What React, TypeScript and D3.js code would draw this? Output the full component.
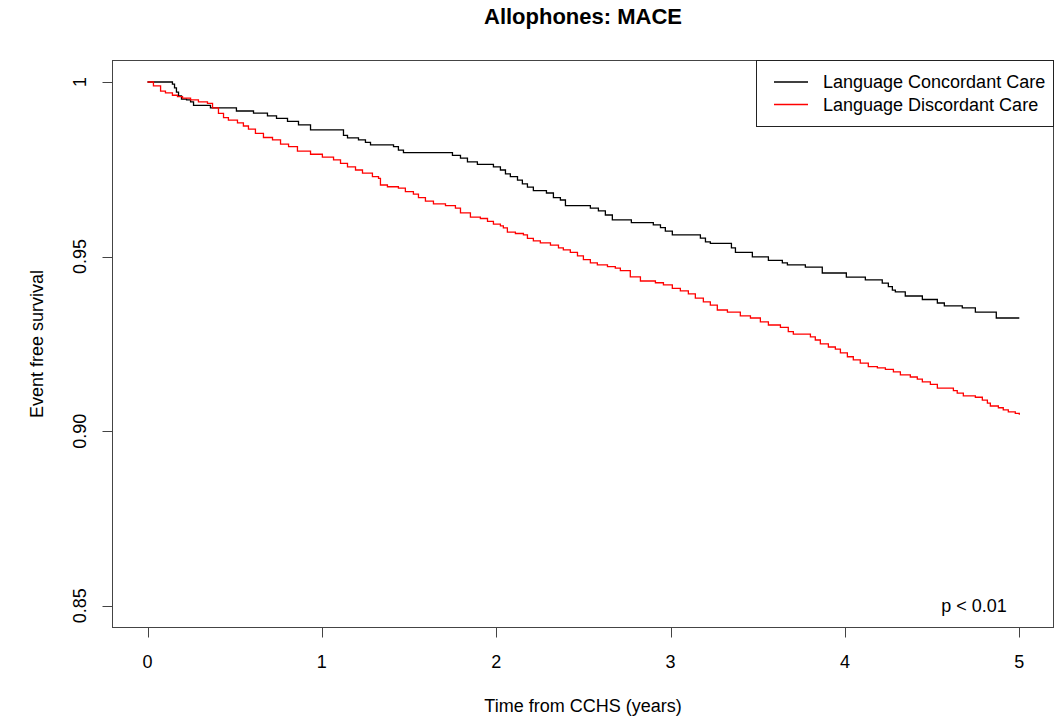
import React, { useRef, useEffect } from 'react';
import * as d3 from 'd3';

const title = 'Allophones: MACE';
const xLabel = 'Time from CCHS (years)';
const yLabel = 'Event free survival';
const xTicks = [0, 1, 2, 3, 4, 5];
const yTicks = [0.85, 0.9, 0.95, 1];
const yTickLabels = ['0.85', '0.90', '0.95', '1'];
const seriesNames = ['Language Concordant Care', 'Language Discordant Care'];
const seriesColors = ['#000000', '#ff0000'];
const pValueText = 'p < 0.01';

// Concordant care: event times (years) and survival after each event
const concordantTime = [
	0, 0.143, 0.155, 0.166, 0.178, 0.195, 0.224, 0.247, 0.264, 0.361, 0.51, 0.608, 0.688, 0.74,
	0.803, 0.866, 0.935, 1.124, 1.147, 1.21, 1.25, 1.279, 1.411, 1.439, 1.468, 1.749, 1.795,
	1.835, 1.892, 1.984, 2.024, 2.053, 2.081, 2.122, 2.15, 2.179, 2.213, 2.288, 2.328, 2.368,
	2.397, 2.54, 2.586, 2.626, 2.666, 2.775, 2.901, 2.942, 2.97, 3.01, 3.171, 3.2, 3.228, 3.349,
	3.372, 3.469, 3.561, 3.641, 3.67, 3.773, 3.87, 4.008, 4.117, 4.214, 4.249, 4.272, 4.289,
	4.346, 4.444, 4.53, 4.57, 4.673, 4.748, 4.868, 5.0,
];
const concordantSurv = [
	1, 0.9994, 0.9983, 0.9971, 0.996, 0.9951, 0.9949, 0.9943, 0.9933, 0.9926, 0.9917, 0.9911,
	0.9903, 0.9896, 0.9887, 0.9877, 0.9863, 0.9847, 0.984, 0.9834, 0.9827, 0.982, 0.9815, 0.9805,
	0.9798, 0.979, 0.9782, 0.9771, 0.9764, 0.9757, 0.9748, 0.9737, 0.9729, 0.9719, 0.9708,
	0.9699, 0.9689, 0.9682, 0.9669, 0.9662, 0.9646, 0.9639, 0.9631, 0.9619, 0.9605, 0.9597,
	0.9591, 0.9583, 0.9573, 0.9562, 0.9553, 0.9542, 0.9538, 0.9525, 0.9512, 0.9499, 0.9489,
	0.9482, 0.9476, 0.947, 0.9453, 0.9441, 0.9433, 0.9424, 0.9414, 0.9404, 0.9399, 0.9387,
	0.9377, 0.9367, 0.9359, 0.9353, 0.9341, 0.9324, 0.9324,
];

// Discordant care
const discordantTime = [
	0, 0.034, 0.075, 0.103, 0.143, 0.172, 0.201, 0.247, 0.292, 0.344, 0.373, 0.407, 0.436, 0.464,
	0.516, 0.55, 0.579, 0.619, 0.665, 0.717, 0.763, 0.809, 0.86, 0.935, 1.003, 1.067, 1.107,
	1.147, 1.193, 1.233, 1.29, 1.325, 1.336, 1.376, 1.439, 1.479, 1.525, 1.554, 1.594, 1.64,
	1.709, 1.766, 1.795, 1.852, 1.909, 1.95, 1.984, 2.024, 2.041, 2.064, 2.11, 2.156, 2.179,
	2.213, 2.253, 2.311, 2.357, 2.385, 2.425, 2.466, 2.5, 2.54, 2.58, 2.638, 2.683, 2.712, 2.769,
	2.827, 2.913, 2.959, 3.01, 3.056, 3.102, 3.142, 3.188, 3.228, 3.268, 3.326, 3.4, 3.458,
	3.515, 3.561, 3.63, 3.675, 3.704, 3.802, 3.83, 3.859, 3.905, 3.945, 3.974, 4.014, 4.048,
	4.088, 4.134, 4.186, 4.232, 4.278, 4.318, 4.375, 4.415, 4.444, 4.49, 4.53, 4.622, 4.644,
	4.679, 4.748, 4.788, 4.817, 4.834, 4.88, 4.908, 4.937, 4.977, 5.0,
];
const discordantSurv = [
	1, 0.9989, 0.9974, 0.9969, 0.9962, 0.9958, 0.9954, 0.9949, 0.9943, 0.9939, 0.9926, 0.991,
	0.9898, 0.9891, 0.9883, 0.9874, 0.9865, 0.9853, 0.9841, 0.9834, 0.9822, 0.9815, 0.9802,
	0.9793, 0.9785, 0.9777, 0.9767, 0.9757, 0.9748, 0.9739, 0.9729, 0.9724, 0.9705, 0.97,
	0.9696, 0.9686, 0.9679, 0.9669, 0.9659, 0.9651, 0.9646, 0.9639, 0.9625, 0.9613, 0.9609,
	0.9601, 0.9593, 0.9588, 0.9582, 0.957, 0.9566, 0.9562, 0.9552, 0.9545, 0.9539, 0.9533,
	0.9525, 0.9519, 0.9512, 0.9502, 0.9491, 0.9482, 0.9476, 0.9471, 0.9467, 0.946, 0.9442,
	0.943, 0.9425, 0.9419, 0.9409, 0.9402, 0.9393, 0.9381, 0.937, 0.9361, 0.9347, 0.9341,
	0.933, 0.9324, 0.9313, 0.9304, 0.9297, 0.9285, 0.9278, 0.927, 0.9261, 0.925, 0.9241,
	0.9235, 0.9224, 0.9213, 0.9204, 0.9195, 0.9185, 0.9181, 0.9177, 0.917, 0.9161, 0.9155,
	0.9149, 0.9141, 0.9134, 0.9123, 0.9116, 0.9109, 0.9101, 0.9097, 0.9089, 0.908, 0.9072,
	0.9067, 0.9061, 0.9055, 0.9051, 0.9047,
];

const font = "'Liberation Sans', Arial, sans-serif";

function App() {
	const width = 1054;
	const height = 717;
	const svgRef = useRef<SVGSVGElement>(null);

	useEffect(() => {
		const svg = d3.select(svgRef.current);
		svg.selectAll('*').remove();

		const x = d3.scaleLinear().domain([0, 5]).range([147.5, 1019.3]);
		const y = d3.scaleLinear().domain([0.85, 1]).range([605.7, 82]);
		const left = 112.5;
		const right = 1053.5;
		const top = 60.5;
		const bottom = 627.5;
		const axisColor = '#444';
		const fs = 18;

		// plot box
		svg
			.append('rect')
			.attr('x', left)
			.attr('y', top)
			.attr('width', right - left)
			.attr('height', bottom - top)
			.attr('fill', 'none')
			.attr('stroke', axisColor)
			.attr('stroke-width', 1);

		// x axis
		const gx = svg.append('g');
		gx.selectAll('line')
			.data(xTicks)
			.join('line')
			.attr('x1', (d) => Math.round(x(d)) + 0.5)
			.attr('x2', (d) => Math.round(x(d)) + 0.5)
			.attr('y1', bottom)
			.attr('y2', bottom + 10)
			.attr('stroke', axisColor);
		gx.selectAll('text')
			.data(xTicks)
			.join('text')
			.attr('x', (d) => x(d))
			.attr('y', 668)
			.attr('text-anchor', 'middle')
			.attr('font-family', font)
			.attr('font-size', fs)
			.text((d) => String(d));

		// y axis
		const gy = svg.append('g');
		gy.selectAll('line')
			.data(yTicks)
			.join('line')
			.attr('x1', left - 10)
			.attr('x2', left)
			.attr('y1', (d) => Math.round(y(d)) + 0.5)
			.attr('y2', (d) => Math.round(y(d)) + 0.5)
			.attr('stroke', axisColor);
		gy.selectAll('text')
			.data(yTicks)
			.join('text')
			.attr('transform', (d) => `translate(86,${y(d)}) rotate(-90)`)
			.attr('text-anchor', 'middle')
			.attr('font-family', font)
			.attr('font-size', fs)
			.text((d, i) => yTickLabels[i]);

		// titles
		svg
			.append('text')
			.attr('x', 583)
			.attr('y', 24)
			.attr('text-anchor', 'middle')
			.attr('font-family', font)
			.attr('font-weight', 'bold')
			.attr('font-size', 22)
			.text(title);
		svg
			.append('text')
			.attr('x', 583)
			.attr('y', 712)
			.attr('text-anchor', 'middle')
			.attr('font-family', font)
			.attr('font-size', fs)
			.text(xLabel);
		svg
			.append('text')
			.attr('transform', `translate(43,344) rotate(-90)`)
			.attr('text-anchor', 'middle')
			.attr('font-family', font)
			.attr('font-size', fs)
			.text(yLabel);

		// survival curves
		const series = [
			{ t: concordantTime, s: concordantSurv },
			{ t: discordantTime, s: discordantSurv },
		];
		const ln = d3
			.line<[number, number]>()
			.x((d) => x(d[0]))
			.y((d) => y(d[1]))
			.curve(d3.curveStepAfter);
		series.forEach((ser, k) => {
			const pts = ser.t.map((t, i) => [t, ser.s[i]] as [number, number]);
			svg
				.append('path')
				.attr('d', ln(pts))
				.attr('fill', 'none')
				.attr('stroke', seriesColors[k])
				.attr('stroke-width', 1.3);
		});

		// legend
		const lg = svg.append('g');
		lg.append('rect')
			.attr('x', 756.5)
			.attr('y', top)
			.attr('width', right - 756.5)
			.attr('height', 66)
			.attr('fill', 'white')
			.attr('stroke', '#222');
		seriesNames.forEach((name, i) => {
			const ly = 82 + i * 22.5;
			lg.append('line')
				.attr('x1', 774)
				.attr('x2', 808)
				.attr('y1', ly)
				.attr('y2', ly)
				.attr('stroke', seriesColors[i])
				.attr('stroke-width', 1.3);
			lg.append('text')
				.attr('x', 823)
				.attr('y', ly + 6)
				.attr('font-family', font)
				.attr('font-size', fs)
				.text(name);
		});

		svg
			.append('text')
			.attr('x', 974)
			.attr('y', 612)
			.attr('text-anchor', 'middle')
			.attr('font-family', font)
			.attr('font-size', fs)
			.text(pValueText);
	}, []);

	return (
		<svg
			ref={svgRef}
			width={width}
			height={height}
			style={{ position: 'absolute', left: 0, top: 0, background: '#fff', display: 'block' }}
		/>
	);
}

export default App;
